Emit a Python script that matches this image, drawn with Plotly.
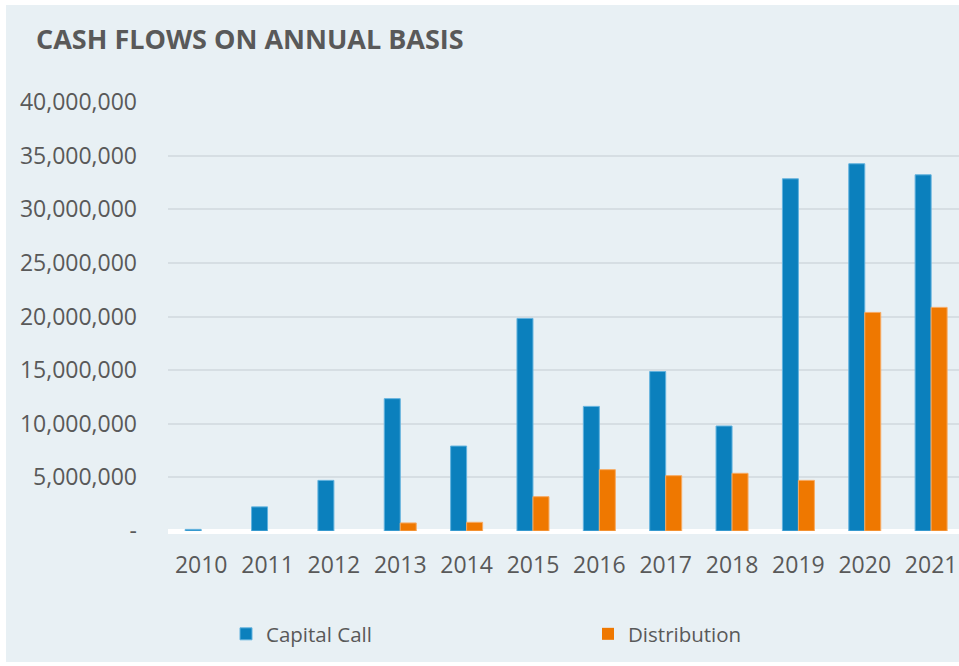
import plotly.graph_objects as go

# Annual cash flow data
years = ["2010", "2011", "2012", "2013", "2014", "2015",
         "2016", "2017", "2018", "2019", "2020", "2021"]
capital_call = [150000, 2250000, 4720000, 12340000, 7920000, 19820000,
                11620000, 14870000, 9790000, 32840000, 34240000, 33210000]
distribution = [0, 0, 0, 750000, 810000, 3200000,
                5720000, 5160000, 5380000, 4720000, 20380000, 20850000]

y_tickvals = [0, 5000000, 10000000, 15000000, 20000000,
              25000000, 30000000, 35000000, 40000000]
y_ticktext = ["-"] + [f"{v:,}" for v in y_tickvals[1:]]

PANEL = "#e8f0f4"
TEXT = "#595959"
GRID = "#d6dee3"
FONT = "Open Sans"

W, H = 959, 666
L, R, T, B = 168, 0, 102, 135
pw, ph = W - L - R, H - T - B


def outline_widths(values):
    # no outline on empty bars, so zero years stay blank
    return [0 if v == 0 else 1 for v in values]


def legend_at(px_left):
    # one single-entry legend per series, placed below the axis
    return dict(
        orientation="h",
        x=(px_left - L) / pw, xanchor="left",
        y=(T + ph - 634) / ph, yanchor="middle",
        font=dict(family=FONT, size=20.5, color=TEXT),
        bgcolor="rgba(0,0,0,0)",
    )


fig = go.Figure()
fig.add_trace(go.Bar(
    name="Capital Call", x=years, y=capital_call,
    marker=dict(color="#0b80bd",
                line=dict(color="#62b2de", width=outline_widths(capital_call))),
    legend="legend",
))
fig.add_trace(go.Bar(
    name="Distribution", x=years, y=distribution,
    marker=dict(color="#ef7800",
                line=dict(color="#f7aa62", width=outline_widths(distribution))),
    legend="legend2",
))

# light panel with a thin white margin around it
fig.add_shape(
    type="rect", xref="paper", yref="paper", layer="below",
    x0=(6 - L) / pw, x1=1.0,
    y0=(T + ph - 662) / ph, y1=(T + ph - 5) / ph,
    fillcolor=PANEL, line=dict(width=0),
)

fig.update_layout(
    width=W, height=H,
    margin=dict(l=L, r=R, t=T, b=B, pad=0, autoexpand=False),
    paper_bgcolor="white",
    plot_bgcolor=PANEL,
    barmode="group",
    bargap=0.518,
    bargroupgap=0,
    font=dict(family=FONT, color=TEXT),
    title=dict(
        text="<b>CASH FLOWS ON ANNUAL BASIS</b>",
        font=dict(family=FONT, size=27, color=TEXT),
        xref="container", yref="container",
        x=36 / W, xanchor="left",
        y=1 - 40 / H, yanchor="middle",
    ),
    legend=legend_at(226),
    legend2=legend_at(588),
    showlegend=True,
)

fig.update_xaxes(
    type="category",
    range=[-0.5, 11.42],
    showgrid=False,
    showline=False,
    ticks="",
    tickfont=dict(family=FONT, size=23, color=TEXT),
    ticklabelstandoff=18,
)
fig.update_yaxes(
    range=[0, 40000000],
    tickvals=y_tickvals,
    ticktext=y_ticktext,
    showgrid=True, gridcolor=GRID, gridwidth=2,
    zeroline=True, zerolinecolor="white", zerolinewidth=5,
    showline=False,
    ticks="",
    tickfont=dict(family=FONT, size=23, color=TEXT),
    ticklabelstandoff=30,
)

fig.write_html("out.html")
